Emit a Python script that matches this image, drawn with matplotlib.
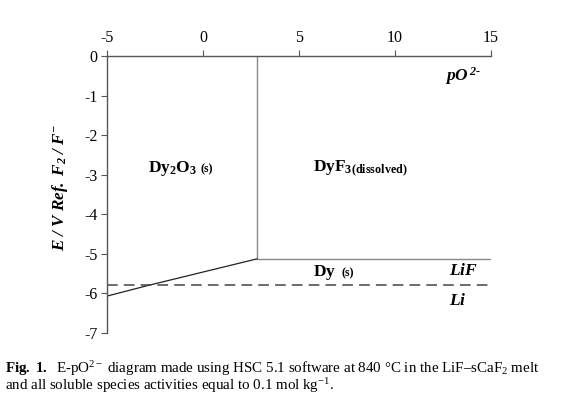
import matplotlib
matplotlib.use("Agg")
import matplotlib.pyplot as plt

# Data
x_ticks = [-5, 0, 5, 10, 15]
y_ticks = [0, -1, -2, -3, -4, -5, -6, -7]

# Dy2O3 / DyF3 vertical boundary
vert_x = [2.8, 2.8]
vert_y = [0.0, -5.13]
# DyF3 / Dy horizontal boundary
horiz_x = [2.8, 15.0]
horiz_y = [-5.13, -5.13]
# Dy2O3 / Dy sloped boundary
slope_x = [-5.0, -2.85, 2.8]
slope_y = [-6.07, -5.8, -5.13]
# LiF / Li limit
li_x = [-5.0, 15.0]
li_y = [-5.8, -5.8]

serif = ["Liberation Serif", "DejaVu Serif"]
plt.rcParams["font.family"] = serif
plt.rcParams["mathtext.fontset"] = "custom"
plt.rcParams["mathtext.rm"] = "Liberation Serif"
plt.rcParams["mathtext.it"] = "Liberation Serif:italic"
plt.rcParams["mathtext.bf"] = "Liberation Serif:bold"
plt.rcParams["mathtext.bfit"] = "Liberation Serif:italic:bold"

fig = plt.figure(figsize=(5.67, 4.15), dpi=100)
ax = fig.add_axes([0.189, 0.198, 0.677, 0.667])

ax.plot(vert_x, vert_y, color="#888888", lw=1.0)
ax.plot(horiz_x, horiz_y, color="#888888", lw=1.0)
ax.plot(slope_x, slope_y, color="#222222", lw=0.9)
ax.plot(li_x, li_y, color="#444444", lw=1.1, dashes=(7, 4))

ax.set_xlim(-5, 15)
ax.set_ylim(-7, 0)
ax.xaxis.tick_top()
ax.set_xticks(x_ticks)
ax.set_yticks(y_ticks)
ax.set_xticklabels([str(v) for v in x_ticks])
ax.set_yticklabels([str(v) for v in y_ticks])
ax.tick_params(axis="both", direction="out", length=4, width=0.8,
               color="#555555", labelsize=11.5, pad=3)
for s in ["bottom", "right"]:
    ax.spines[s].set_visible(False)
for s in ["top", "left"]:
    ax.spines[s].set_color("#555555")
    ax.spines[s].set_linewidth(1.0)

ax.set_ylabel(r"$\mathbfit{E\ /\ V\ Ref.\ F_2\ /\ F^{-}}$", fontsize=12.3)
ax.yaxis.set_label_coords(-0.097, 0.525)

ax.text(-2.86, -2.85, r"$\mathbf{Dy_2O_3}$", fontsize=12.5, ha="left", va="center")
ax.text(-0.15, -2.87, "(s)", fontsize=8.5, fontweight="bold", ha="left", va="center")
ax.text(5.7, -2.85, r"$\mathbf{DyF_{3(dissolved)}}$", fontsize=12.5, ha="left", va="center")
ax.text(5.7, -5.47, r"$\mathbf{Dy}$", fontsize=12.5, ha="left", va="center")
ax.text(7.2, -5.49, "(s)", fontsize=8.5, fontweight="bold", ha="left", va="center")
ax.text(12.8, -5.43, r"$\mathbfit{LiF}$", fontsize=12.5, ha="left", va="center")
ax.text(12.8, -6.2, r"$\mathbfit{Li}$", fontsize=12.5, ha="left", va="center")
ax.text(12.6, -0.5, r"$\mathbfit{pO}^{\,\mathbfit{2\text{-}}}$", fontsize=12.5, ha="left", va="center")

cap1 = (r"$\mathbf{Fig.\ 1.}$  E-pO$^{2-}$ diagram made using HSC 5.1 software at 840 °C in the LiF–sCaF$_2$ melt")
cap2 = r"and all soluble species activities equal to 0.1 mol kg$^{-1}$."
fig.text(0.009, 0.113, cap1, fontsize=10.8, ha="left", va="center")
fig.text(0.009, 0.07, cap2, fontsize=10.8, ha="left", va="center")

fig.savefig("out.png", dpi=100)
